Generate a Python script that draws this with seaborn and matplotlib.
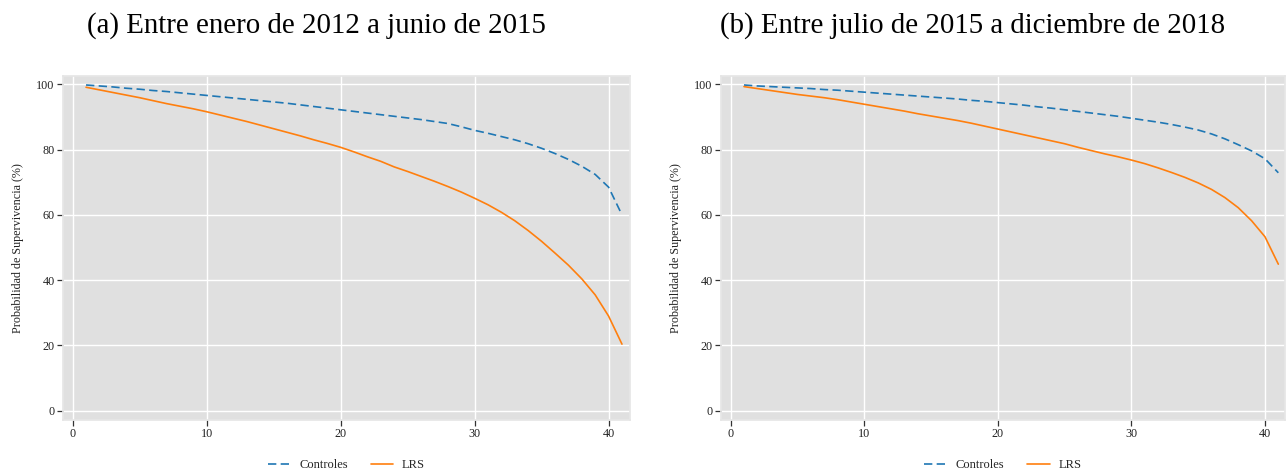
import numpy as np
import pandas as pd
import matplotlib
matplotlib.use("Agg")
import matplotlib.pyplot as plt
import seaborn as sns

meses = list(range(1, 42))

controles_a = [99.8, 99.5, 99.2, 98.8, 98.5, 98.1, 97.8, 97.4, 97.0, 96.6,
               96.2, 95.8, 95.4, 95.0, 94.6, 94.2, 93.7, 93.2, 92.7, 92.2,
               91.7, 91.2, 90.7, 90.2, 89.7, 89.2, 88.6, 88.0, 87.0, 85.9,
               85.0, 84.0, 83.0, 81.8, 80.4, 78.8, 77.0, 74.9, 72.4, 68.5, 60.0]
lrs_a = [99.1, 98.3, 97.5, 96.7, 95.9, 95.0, 94.1, 93.3, 92.5, 91.6,
         90.6, 89.6, 88.6, 87.5, 86.4, 85.3, 84.2, 83.0, 81.9, 80.7,
         79.3, 77.8, 76.4, 74.7, 73.3, 71.8, 70.3, 68.7, 67.0, 65.1,
         63.1, 60.8, 58.2, 55.2, 51.9, 48.3, 44.6, 40.4, 35.5, 29.0, 20.4]

controles_b = [99.8, 99.5, 99.3, 99.1, 98.9, 98.7, 98.4, 98.2, 97.9, 97.6,
               97.3, 97.0, 96.7, 96.4, 96.1, 95.8, 95.5, 95.1, 94.8, 94.4,
               94.0, 93.6, 93.1, 92.7, 92.2, 91.7, 91.2, 90.7, 90.2, 89.6,
               89.0, 88.4, 87.7, 86.9, 86.0, 84.8, 83.3, 81.5, 79.6, 77.2, 72.9]
lrs_b = [99.3, 98.7, 98.1, 97.5, 96.9, 96.4, 95.9, 95.3, 94.6, 93.9,
         93.2, 92.5, 91.8, 91.0, 90.3, 89.6, 88.9, 88.1, 87.2, 86.3,
         85.4, 84.5, 83.6, 82.7, 81.8, 80.7, 79.7, 78.7, 77.8, 76.8,
         75.7, 74.4, 73.0, 71.5, 69.8, 67.8, 65.3, 62.2, 58.2, 53.3, 44.9]

titulos = ["(a) Entre enero de 2012 a junio de 2015",
           "(b) Entre julio de 2015 a diciembre de 2018"]
grupos = ["Controles", "LRS"]
ylabel = "Probabilidad de Supervivencia (%)"

sns.set_theme(style="darkgrid", rc={
    "axes.facecolor": "#e0e0e0",
    "grid.color": "white",
    "grid.linewidth": 1.0,
    "axes.edgecolor": "#e6e6e6",
    "xtick.bottom": True, "ytick.left": True,
    "xtick.color": "#333333", "ytick.color": "#333333",
    "xtick.major.size": 4, "ytick.major.size": 4,
    "xtick.major.width": 0.9, "ytick.major.width": 0.9,
})
plt.rcParams["font.family"] = ["Liberation Serif", "DejaVu Serif"]

fig = plt.figure(figsize=(12.86, 4.73), dpi=100)
positions = [[63/1286, 1-420/473, (630-63)/1286, 344/473],
             [721/1286, 1-420/473, (1285-721)/1286, 344/473]]
title_x = [316/1286, 973/1286]
palette = {"Controles": "#1f77b4", "LRS": "#ff7f0e"}
dashes = {"Controles": (5, 2.6), "LRS": ""}

for i, (c, l) in enumerate([(controles_a, lrs_a), (controles_b, lrs_b)]):
    ax = fig.add_axes(positions[i])
    df = pd.DataFrame({
        "Mes": meses * 2,
        "Supervivencia": c + l,
        "Grupo": ["Controles"] * len(meses) + ["LRS"] * len(meses),
    })
    sns.lineplot(data=df, x="Mes", y="Supervivencia", hue="Grupo", style="Grupo",
                 palette=palette, dashes=dashes, linewidth=1.2, ax=ax)
    ax.set_xlim(-0.72, 41.6 if i == 0 else 41.5)
    ax.set_ylim(-2.85, 102.55)
    ax.set_xticks([0, 10, 20, 30, 40])
    ax.set_yticks([0, 20, 40, 60, 80, 100])
    ax.tick_params(labelsize=8.7, pad=2, labelcolor="#222222")
    ax.set_xlabel("")
    ax.set_ylabel(ylabel, fontsize=8.7, color="#222222", labelpad=9)
    ax.legend(loc="center", bbox_to_anchor=(0.5, -0.131), ncol=2, frameon=False,
              fontsize=9, handlelength=1.8, handletextpad=0.7,
              columnspacing=1.85, title=None)
    fig.text(title_x[i], 1 - 33/473, titulos[i], ha="center", va="baseline",
             fontsize=20.8, color="black")

fig.savefig("out.png", dpi=100)
